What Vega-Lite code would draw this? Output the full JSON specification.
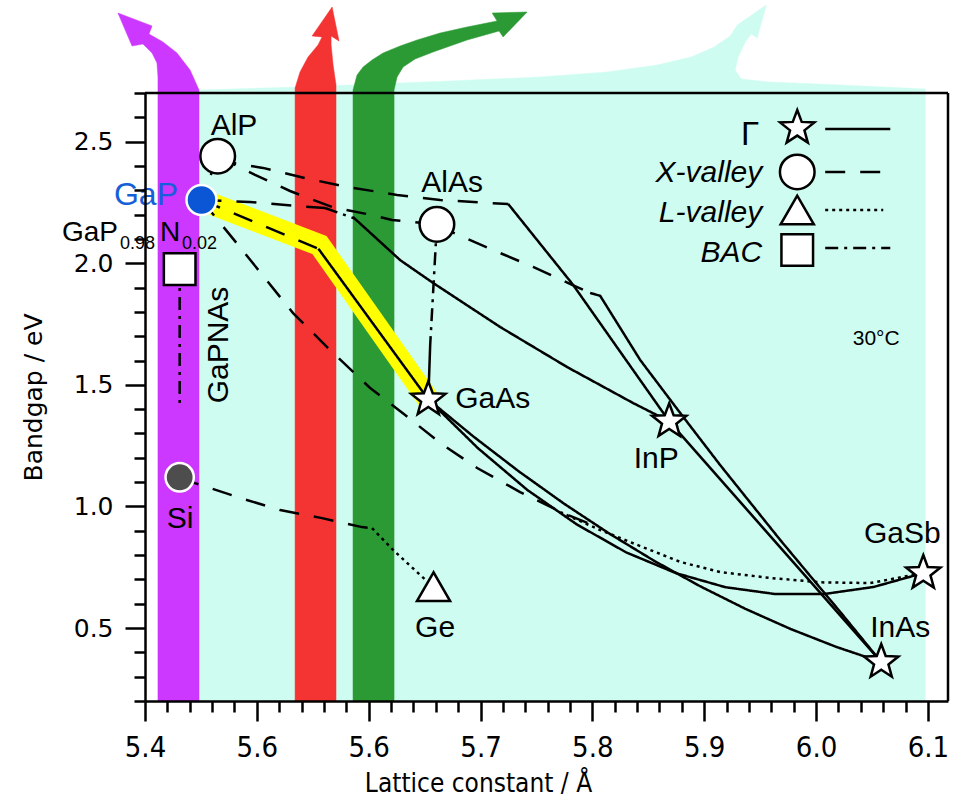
{
"$schema":"https://vega.github.io/schema/vega-lite/v6.json",
"width":803,"height":608,
"autosize":{"type":"none"},
"padding":{"left":145,"top":93,"right":7,"bottom":101},
"background":"white",
"config":{"view":{"stroke":null},"font":"Liberation Sans"},
"datasets":{
"shapes":[
{"p":"cyan","i":0,"x":5.4116,"y":0.2},{"p":"cyan","i":1,"x":5.4116,"y":2.7},{"p":"cyan","i":2,"x":5.4483,"y":2.7123},{"p":"cyan","i":3,"x":5.5386,"y":2.7247},{"p":"cyan","i":4,"x":5.6728,"y":2.7493},{"p":"cyan","i":5,"x":5.7533,"y":2.7658},{"p":"cyan","i":6,"x":5.8132,"y":2.7864},{"p":"cyan","i":7,"x":5.858,"y":2.8151},{"p":"cyan","i":8,"x":5.8884,"y":2.848},{"p":"cyan","i":9,"x":5.9089,"y":2.8891},{"p":"cyan","i":10,"x":5.9233,"y":2.9344},{"p":"cyan","i":11,"x":5.9296,"y":2.9796},{"p":"cyan","i":12,"x":5.9555,"y":3.0618},{"p":"cyan","i":13,"x":5.9474,"y":2.9262},{"p":"cyan","i":14,"x":5.942,"y":2.9426},{"p":"cyan","i":15,"x":5.9367,"y":2.9097},{"p":"cyan","i":16,"x":5.9304,"y":2.848},{"p":"cyan","i":17,"x":5.9277,"y":2.7946},{"p":"cyan","i":18,"x":5.933,"y":2.7576},{"p":"cyan","i":19,"x":5.9572,"y":2.7452},{"p":"cyan","i":20,"x":6.0225,"y":2.7329},{"p":"cyan","i":21,"x":6.0977,"y":2.7164},{"p":"cyan","i":22,"x":6.0977,"y":0.2},
{"p":"purple","i":0,"x":5.4116,"y":0.2},{"p":"purple","i":1,"x":5.4116,"y":2.7658},{"p":"purple","i":2,"x":5.4107,"y":2.8234},{"p":"purple","i":3,"x":5.4063,"y":2.8645},{"p":"purple","i":4,"x":5.3982,"y":2.9015},{"p":"purple","i":5,"x":5.3884,"y":2.8933},{"p":"purple","i":6,"x":5.3758,"y":3.0289},{"p":"purple","i":7,"x":5.4063,"y":2.9755},{"p":"purple","i":8,"x":5.4036,"y":2.9426},{"p":"purple","i":9,"x":5.4161,"y":2.9097},{"p":"purple","i":10,"x":5.4286,"y":2.8645},{"p":"purple","i":11,"x":5.4403,"y":2.7946},{"p":"purple","i":12,"x":5.4483,"y":2.7123},{"p":"purple","i":13,"x":5.4483,"y":0.2},
{"p":"red","i":0,"x":5.5342,"y":0.2},{"p":"red","i":1,"x":5.5342,"y":2.7206},{"p":"red","i":2,"x":5.5386,"y":2.7864},{"p":"red","i":3,"x":5.5458,"y":2.848},{"p":"red","i":4,"x":5.5547,"y":2.8974},{"p":"red","i":5,"x":5.5583,"y":2.9303},{"p":"red","i":6,"x":5.5494,"y":2.9344},{"p":"red","i":7,"x":5.5673,"y":3.0536},{"p":"red","i":8,"x":5.5735,"y":2.9138},{"p":"red","i":9,"x":5.5664,"y":2.9344},{"p":"red","i":10,"x":5.5664,"y":2.8974},{"p":"red","i":11,"x":5.5682,"y":2.8151},{"p":"red","i":12,"x":5.5708,"y":2.7329},{"p":"red","i":13,"x":5.5708,"y":0.2},
{"p":"green","i":0,"x":5.586,"y":0.2},{"p":"green","i":1,"x":5.586,"y":2.7123},{"p":"green","i":2,"x":5.5896,"y":2.774},{"p":"green","i":3,"x":5.595,"y":2.8069},{"p":"green","i":4,"x":5.603,"y":2.8357},{"p":"green","i":5,"x":5.6129,"y":2.8645},{"p":"green","i":6,"x":5.6281,"y":2.8933},{"p":"green","i":7,"x":5.6433,"y":2.9179},{"p":"green","i":8,"x":5.6639,"y":2.9467},{"p":"green","i":9,"x":5.688,"y":2.9714},{"p":"green","i":10,"x":5.7148,"y":2.9961},{"p":"green","i":11,"x":5.7104,"y":3.0289},{"p":"green","i":12,"x":5.7417,"y":3.0331},{"p":"green","i":13,"x":5.7202,"y":2.9303},{"p":"green","i":14,"x":5.7166,"y":2.9549},{"p":"green","i":15,"x":5.688,"y":2.9179},{"p":"green","i":16,"x":5.6576,"y":2.8686},{"p":"green","i":17,"x":5.6415,"y":2.8398},{"p":"green","i":18,"x":5.6308,"y":2.8069},{"p":"green","i":19,"x":5.6254,"y":2.7658},{"p":"green","i":20,"x":5.6227,"y":2.7123},{"p":"green","i":21,"x":5.6227,"y":0.2}
],
"lines":[
{"id":"hl","s":"hl","i":0,"x":5.4505,"y":2.26},{"id":"hl","s":"hl","i":1,"x":5.556,"y":2.075},{"id":"hl","s":"hl","i":2,"x":5.6533,"y":1.44},
{"id":"GaAsP_X","s":"dashed","i":0,"x":5.4505,"y":2.26},{"id":"GaAsP_X","s":"dashed","i":1,"x":5.555,"y":2.06},
{"id":"GaAsP_G","s":"solid","i":0,"x":5.555,"y":2.06},{"id":"GaAsP_G","s":"solid","i":1,"x":5.6533,"y":1.44},
{"id":"GaInP_X","s":"dashed","i":0,"x":5.4505,"y":2.26},{"id":"GaInP_X","s":"dashed","i":1,"x":5.4939,"y":2.252},{"id":"GaInP_X","s":"dashed","i":2,"x":5.536,"y":2.235},{"id":"GaInP_X","s":"dashed","i":3,"x":5.561,"y":2.227},
{"id":"GaInP_L","s":"dashdot","i":0,"x":5.561,"y":2.227},{"id":"GaInP_L","s":"dashdot","i":1,"x":5.587,"y":2.185},
{"id":"GaInP_G","s":"solid","i":0,"x":5.586,"y":2.19},{"id":"GaInP_G","s":"solid","i":1,"x":5.6281,"y":2.013},{"id":"GaInP_G","s":"solid","i":2,"x":5.6576,"y":1.919},{"id":"GaInP_G","s":"solid","i":3,"x":5.7175,"y":1.738},{"id":"GaInP_G","s":"solid","i":4,"x":5.7775,"y":1.573},{"id":"GaInP_G","s":"solid","i":5,"x":5.8365,"y":1.425},{"id":"GaInP_G","s":"solid","i":6,"x":5.8687,"y":1.35},
{"id":"AlInP_X","s":"dashed","i":0,"x":5.465,"y":2.44},{"id":"AlInP_X","s":"dashed","i":1,"x":5.4787,"y":2.412},{"id":"AlInP_X","s":"dashed","i":2,"x":5.5055,"y":2.392},{"id":"AlInP_X","s":"dashed","i":3,"x":5.5431,"y":2.35},{"id":"AlInP_X","s":"dashed","i":4,"x":5.5816,"y":2.313},{"id":"AlInP_X","s":"dashed","i":5,"x":5.6254,"y":2.281},{"id":"AlInP_X","s":"dashed","i":6,"x":5.6639,"y":2.26},{"id":"AlInP_X","s":"dashed","i":7,"x":5.7068,"y":2.248},{"id":"AlInP_X","s":"dashed","i":8,"x":5.7247,"y":2.244},
{"id":"AlInP_G","s":"solid","i":0,"x":5.7247,"y":2.244},{"id":"AlInP_G","s":"solid","i":1,"x":5.7828,"y":1.911},{"id":"AlInP_G","s":"solid","i":2,"x":5.8687,"y":1.35},
{"id":"AlAsP_X","s":"dashed","i":0,"x":5.465,"y":2.44},{"id":"AlAsP_X","s":"dashed","i":1,"x":5.4984,"y":2.363},{"id":"AlAsP_X","s":"dashed","i":2,"x":5.5297,"y":2.297},{"id":"AlAsP_X","s":"dashed","i":3,"x":5.5673,"y":2.231},{"id":"AlAsP_X","s":"dashed","i":4,"x":5.603,"y":2.198},{"id":"AlAsP_X","s":"dashed","i":5,"x":5.6209,"y":2.178},{"id":"AlAsP_X","s":"dashed","i":6,"x":5.661,"y":2.16},
{"id":"AlGaP_X","s":"dashed","i":0,"x":5.465,"y":2.44},{"id":"AlGaP_X","s":"dashed","i":1,"x":5.4505,"y":2.26},
{"id":"AlInAs_X","s":"dashed","i":0,"x":5.661,"y":2.16},{"id":"AlInAs_X","s":"dashed","i":1,"x":5.6746,"y":2.128},{"id":"AlInAs_X","s":"dashed","i":2,"x":5.7113,"y":2.054},{"id":"AlInAs_X","s":"dashed","i":3,"x":5.747,"y":1.985},{"id":"AlInAs_X","s":"dashed","i":4,"x":5.7819,"y":1.911},{"id":"AlInAs_X","s":"dashed","i":5,"x":5.798,"y":1.878},
{"id":"AlInAs_G","s":"solid","i":0,"x":5.798,"y":1.878},{"id":"AlInAs_G","s":"solid","i":1,"x":5.807,"y":1.866},{"id":"AlInAs_G","s":"solid","i":2,"x":5.8428,"y":1.602},{"id":"AlInAs_G","s":"solid","i":3,"x":5.8786,"y":1.384},{"id":"AlInAs_G","s":"solid","i":4,"x":5.9143,"y":1.17},{"id":"AlInAs_G","s":"solid","i":5,"x":5.968,"y":0.862},{"id":"AlInAs_G","s":"solid","i":6,"x":6.0217,"y":0.566},{"id":"AlInAs_G","s":"solid","i":7,"x":6.0583,"y":0.36},
{"id":"AlGaAs_B","s":"dashdot","i":0,"x":5.661,"y":2.16},{"id":"AlGaAs_B","s":"dashdot","i":1,"x":5.655,"y":1.664},
{"id":"AlGaAs_G","s":"solid","i":0,"x":5.655,"y":1.664},{"id":"AlGaAs_G","s":"solid","i":1,"x":5.6533,"y":1.44},
{"id":"InGaAs_G","s":"solid","i":0,"x":5.6533,"y":1.44},{"id":"InGaAs_G","s":"solid","i":1,"x":5.6938,"y":1.287},{"id":"InGaAs_G","s":"solid","i":2,"x":5.7343,"y":1.144},{"id":"InGaAs_G","s":"solid","i":3,"x":5.7748,"y":1.011},{"id":"InGaAs_G","s":"solid","i":4,"x":5.8153,"y":0.888},{"id":"InGaAs_G","s":"solid","i":5,"x":5.8558,"y":0.775},{"id":"InGaAs_G","s":"solid","i":6,"x":5.8963,"y":0.672},{"id":"InGaAs_G","s":"solid","i":7,"x":5.9368,"y":0.579},{"id":"InGaAs_G","s":"solid","i":8,"x":5.9773,"y":0.496},{"id":"InGaAs_G","s":"solid","i":9,"x":6.0178,"y":0.423},{"id":"InGaAs_G","s":"solid","i":10,"x":6.0583,"y":0.36},
{"id":"GaAsSb_G","s":"solid","i":0,"x":5.6533,"y":1.44},{"id":"GaAsSb_G","s":"solid","i":1,"x":5.6976,"y":1.24},{"id":"GaAsSb_G","s":"solid","i":2,"x":5.7418,"y":1.068},{"id":"GaAsSb_G","s":"solid","i":3,"x":5.7861,"y":0.926},{"id":"GaAsSb_G","s":"solid","i":4,"x":5.8303,"y":0.811},{"id":"GaAsSb_G","s":"solid","i":5,"x":5.8746,"y":0.726},{"id":"GaAsSb_G","s":"solid","i":6,"x":5.9189,"y":0.668},{"id":"GaAsSb_G","s":"solid","i":7,"x":5.9631,"y":0.64},{"id":"GaAsSb_G","s":"solid","i":8,"x":6.0074,"y":0.64},{"id":"GaAsSb_G","s":"solid","i":9,"x":6.0516,"y":0.669},{"id":"GaAsSb_G","s":"solid","i":10,"x":6.0959,"y":0.726},
{"id":"GaAsSb_L","s":"dotted","i":0,"x":5.7712,"y":0.977},{"id":"GaAsSb_L","s":"dotted","i":1,"x":5.807,"y":0.903},{"id":"GaAsSb_L","s":"dotted","i":2,"x":5.8428,"y":0.837},{"id":"GaAsSb_L","s":"dotted","i":3,"x":5.8786,"y":0.772},{"id":"GaAsSb_L","s":"dotted","i":4,"x":5.9143,"y":0.73},{"id":"GaAsSb_L","s":"dotted","i":5,"x":5.959,"y":0.706},{"id":"GaAsSb_L","s":"dotted","i":6,"x":6.0038,"y":0.688},{"id":"GaAsSb_L","s":"dotted","i":7,"x":6.0485,"y":0.685},{"id":"GaAsSb_L","s":"dotted","i":8,"x":6.0959,"y":0.726},
{"id":"InAsP_G","s":"solid","i":0,"x":5.8687,"y":1.35},{"id":"InAsP_G","s":"solid","i":1,"x":6.0583,"y":0.36},
{"id":"GaP_dn","s":"dashed","i":0,"x":5.4505,"y":2.26},{"id":"GaP_dn","s":"dashed","i":1,"x":5.4877,"y":2.05},{"id":"GaP_dn","s":"dashed","i":2,"x":5.5324,"y":1.795},{"id":"GaP_dn","s":"dashed","i":3,"x":5.5655,"y":1.643},{"id":"GaP_dn","s":"dashed","i":4,"x":5.6013,"y":1.487},{"id":"GaP_dn","s":"dashed","i":5,"x":5.6326,"y":1.376},{"id":"GaP_dn","s":"dashed","i":6,"x":5.6639,"y":1.261},{"id":"GaP_dn","s":"dashed","i":7,"x":5.697,"y":1.158},{"id":"GaP_dn","s":"dashed","i":8,"x":5.7354,"y":1.059},{"id":"GaP_dn","s":"dashed","i":9,"x":5.7739,"y":0.973},{"id":"GaP_dn","s":"dashed","i":10,"x":5.807,"y":0.911},
{"id":"SiGe_X","s":"dashed","i":0,"x":5.431,"y":1.12},{"id":"SiGe_X","s":"dashed","i":1,"x":5.4447,"y":1.096},{"id":"SiGe_X","s":"dashed","i":2,"x":5.485,"y":1.035},{"id":"SiGe_X","s":"dashed","i":3,"x":5.5208,"y":0.985},{"id":"SiGe_X","s":"dashed","i":4,"x":5.5583,"y":0.952},{"id":"SiGe_X","s":"dashed","i":5,"x":5.5941,"y":0.915},{"id":"SiGe_X","s":"dashed","i":6,"x":5.603,"y":0.911},
{"id":"SiGe_L","s":"dotted","i":0,"x":5.603,"y":0.911},{"id":"SiGe_L","s":"dotted","i":1,"x":5.6218,"y":0.821},{"id":"SiGe_L","s":"dotted","i":2,"x":5.6504,"y":0.7},{"id":"SiGe_L","s":"dotted","i":3,"x":5.658,"y":0.67},
{"id":"GaPN","s":"dashdot","i":0,"x":5.431,"y":1.976},{"id":"GaPN","s":"dashdot","i":1,"x":5.431,"y":1.42},
{"id":"leg1","s":"solid","i":0,"x":6.0082,"y":2.552},{"id":"leg1","s":"solid","i":1,"x":6.0664,"y":2.552},
{"id":"leg2","s":"dashed","i":0,"x":6.0082,"y":2.3752},{"id":"leg2","s":"dashed","i":1,"x":6.0664,"y":2.3752},
{"id":"leg3","s":"dotted","i":0,"x":6.0082,"y":2.2189},{"id":"leg3","s":"dotted","i":1,"x":6.0601,"y":2.2189},
{"id":"leg4","s":"dashdot","i":0,"x":6.0082,"y":2.0627},{"id":"leg4","s":"dashdot","i":1,"x":6.0664,"y":2.0627},
{"id":"frame","s":"solid","i":0,"x":5.4,"y":2.7},{"id":"frame","s":"solid","i":1,"x":6.118,"y":2.7},{"id":"frame","s":"solid","i":2,"x":6.118,"y":0.2}
],
"points":[
{"n":"AlP","k":"X","leg":0,"x":5.465,"y":2.44},
{"n":"AlAs","k":"X","leg":0,"x":5.661,"y":2.16},
{"n":"GaP","k":"GaP","leg":0,"x":5.4505,"y":2.26},
{"n":"Si","k":"Si","leg":0,"x":5.431,"y":1.12},
{"n":"Ge","k":"L","leg":0,"x":5.658,"y":0.67},
{"n":"GaPN","k":"BAC","leg":0,"x":5.431,"y":1.976},
{"n":"GaAs","k":"G","leg":0,"x":5.6533,"y":1.44},
{"n":"InP","k":"G","leg":0,"x":5.8687,"y":1.35},
{"n":"InAs","k":"G","leg":0,"x":6.0583,"y":0.36},
{"n":"GaSb","k":"G","leg":0,"x":6.0959,"y":0.726},
{"n":"lg","k":"G","leg":1,"x":5.9832,"y":2.556},
{"n":"lx","k":"X","leg":1,"x":5.9832,"y":2.3752},
{"n":"ll","k":"L","leg":1,"x":5.9832,"y":2.2189},
{"n":"lb","k":"BAC","leg":1,"x":5.9832,"y":2.0544}
],
"labels":[
{"t":"AlP","g":"c","x":5.4796,"y":2.5273},
{"t":"AlAs","g":"c","x":5.6746,"y":2.2929},
{"t":"InP","g":"c","x":5.8571,"y":1.1581},
{"t":"InAs","g":"c","x":6.0753,"y":0.4632},
{"t":"GaSb","g":"c","x":6.0771,"y":0.8497},
{"t":"Si","g":"c","x":5.4313,"y":0.9114},
{"t":"Ge","g":"c","x":5.6594,"y":0.4632},
{"t":"GaAs","g":"l","x":5.6773,"y":1.4048},
{"t":"GaP","g":"blue","x":5.4295,"y":2.2395},
{"t":"GaP","g":"r28","x":5.3758,"y":2.0914},
{"t":"N","g":"l28","x":5.4134,"y":2.0914},
{"t":"0.98","g":"sub","x":5.3776,"y":2.0586},
{"t":"0.02","g":"sub","x":5.4331,"y":2.0586},
{"t":"GaPNAs","g":"rot","x":5.4742,"y":1.6638},
{"t":"Γ","g":"legG","x":5.9492,"y":2.4862},
{"t":"X-valley","g":"legI","x":5.9519,"y":2.334},
{"t":"L-valley","g":"legI","x":5.9519,"y":2.1696},
{"t":"BAC","g":"legI","x":5.9519,"y":2.0051},
{"t":"30°C","g":"small","x":6.0538,"y":1.6638}
]
},
"encoding":{
"x":{"field":"x","type":"quantitative","scale":{"domain":[5.4,6.118],"nice":false,"zero":false},
 "axis":{"orient":"bottom","values":[5.4,5.42,5.44,5.46,5.48,5.5,5.52,5.54,5.56,5.58,5.6,5.62,5.64,5.66,5.68,5.7,5.72,5.74,5.76,5.78,5.8,5.82,5.84,5.86,5.88,5.9,5.92,5.94,5.96,5.98,6.0,6.02,6.04,6.06,6.08,6.1],
 "labelExpr":"abs(datum.value*10-round(datum.value*10))<0.001 ? (abs(datum.value-5.5)<0.001 ? '5.6' : format(datum.value,'.1f')) : ''",
 "labelFont":"'DejaVu Sans Condensed', 'Liberation Sans', sans-serif","labelFontSize":29,"labelColor":"black","labelPadding":12,"labelFlush":false,"labelOverlap":false,"labelBound":false,
 "tickSize":{"condition":{"test":"abs(datum.value*10-round(datum.value*10))<0.001","value":20},"value":11},
 "tickColor":"black","tickWidth":2.5,"domainColor":"black","domainWidth":2.5,"grid":false,"zindex":1,
 "title":"Lattice constant / Å","titleFont":"'DejaVu Sans Condensed', 'Liberation Sans', sans-serif","titleFontSize":26,"titleFontWeight":"normal","titleColor":"black","titleX":333,"titleY":90,"titleBaseline":"alphabetic","titleAlign":"center"}},
"y":{"field":"y","type":"quantitative","scale":{"domain":[0.2,2.7],"nice":false,"zero":false},
 "axis":{"orient":"left","values":[0.2,0.3,0.4,0.5,0.6,0.7,0.8,0.9,1.0,1.1,1.2,1.3,1.4,1.5,1.6,1.7,1.8,1.9,2.0,2.1,2.2,2.3,2.4,2.5,2.6,2.7],
 "labelExpr":"abs(datum.value*2-round(datum.value*2))<0.001 ? format(datum.value,'.1f') : ''",
 "labelFont":"DejaVu Sans","labelFontSize":25,"labelColor":"black","labelPadding":12,"labelFlush":false,"labelOverlap":false,"labelBound":false,
 "tickSize":{"condition":{"test":"abs(datum.value*2-round(datum.value*2))<0.001","value":20},"value":11},
 "tickColor":"black","tickWidth":2.5,"domainColor":"black","domainWidth":2.5,"grid":false,"zindex":1,
 "title":"Bandgap / eV","titleFont":"DejaVu Sans","titleFontSize":25,"titleFontWeight":"normal","titleColor":"black","titleX":-104,"titleY":304,"titleAngle":270,"titleBaseline":"alphabetic","titleAlign":"center"}}
},
"layer":[
{"data":{"name":"shapes"},"transform":[{"filter":"datum.p=='cyan'"}],"mark":{"type":"line","fill":"#cffcf0","stroke":"#cffcf0","strokeWidth":0.5,"interpolate":"linear"},"encoding":{"order":{"field":"i","type":"quantitative"}}},
{"data":{"name":"shapes"},"transform":[{"filter":"datum.p=='purple'"}],"mark":{"type":"line","fill":"#cc38ff","stroke":"#cc38ff","strokeWidth":0.5,"interpolate":"linear"},"encoding":{"order":{"field":"i","type":"quantitative"}}},
{"data":{"name":"shapes"},"transform":[{"filter":"datum.p=='red'"}],"mark":{"type":"line","fill":"#f43333","stroke":"#f43333","strokeWidth":0.5,"interpolate":"linear"},"encoding":{"order":{"field":"i","type":"quantitative"}}},
{"data":{"name":"shapes"},"transform":[{"filter":"datum.p=='green'"}],"mark":{"type":"line","fill":"#2b9a35","stroke":"#2b9a35","strokeWidth":0.5,"interpolate":"linear"},"encoding":{"order":{"field":"i","type":"quantitative"}}},
{"data":{"name":"lines"},"transform":[{"filter":"datum.s=='hl'"}],"mark":{"type":"line","color":"#ffff00","strokeWidth":22,"strokeCap":"butt","strokeJoin":"miter"},"encoding":{"order":{"field":"i","type":"quantitative"}}},
{"data":{"name":"lines"},"transform":[{"filter":"datum.s!='hl'"}],"mark":{"type":"line","color":"black","strokeWidth":2.5,"strokeCap":"butt"},
 "encoding":{"detail":{"field":"id","type":"nominal"},"order":{"field":"i","type":"quantitative"},
 "strokeDash":{"field":"s","type":"nominal","scale":{"domain":["solid","dashed","dotted","dashdot"],"range":[[1,0],[20,15],[3,4],[13,6,3,6]]},"legend":null}}},
{"data":{"name":"points"},"transform":[{"filter":"datum.leg==0"}],"mark":{"type":"point","opacity":1,"strokeWidth":2.5},
 "encoding":{
 "shape":{"field":"k","type":"nominal","scale":{"domain":["G","X","L","BAC","GaP","Si"],"range":["M0,-1L0.2469,-0.3398L0.9511,-0.309L0.3995,0.1298L0.5878,0.809L0,0.42L-0.5878,0.809L-0.3995,0.1298L-0.9511,-0.309L-0.2469,-0.3398Z","circle","triangle-up","square","circle","circle"]},"legend":null},
 "fill":{"field":"k","type":"nominal","scale":{"domain":["G","X","L","BAC","GaP","Si"],"range":["white","white","white","white","#0b56d4","#4d4d4d"]},"legend":null},
 "stroke":{"field":"k","type":"nominal","scale":{"domain":["G","X","L","BAC","GaP","Si"],"range":["black","black","black","black","white","white"]},"legend":null},
 "size":{"field":"k","type":"ordinal","scale":{"domain":["G","X","L","BAC","GaP","Si"],"range":[1300,800,880,600,780,780]},"legend":null}}},
{"data":{"name":"points"},"transform":[{"filter":"datum.leg==1"}],"mark":{"type":"point","opacity":1,"strokeWidth":2.5,"fill":"white","stroke":"black"},
 "encoding":{
 "shape":{"field":"k","type":"nominal","scale":{"domain":["G","X","L","BAC","GaP","Si"],"range":["M0,-1L0.2469,-0.3398L0.9511,-0.309L0.3995,0.1298L0.5878,0.809L0,0.42L-0.5878,0.809L-0.3995,0.1298L-0.9511,-0.309L-0.2469,-0.3398Z","circle","triangle-up","square","circle","circle"]},"legend":null},
 "size":{"field":"k","type":"ordinal","scale":{"domain":["G","X","L","BAC","GaP","Si"],"range":[1500,520,880,430,780,780]},"legend":null}}},
{"data":{"name":"labels"},"transform":[{"filter":"datum.g=='c'"}],"mark":{"type":"text","font":"Liberation Sans","fontSize":30,"align":"center","baseline":"alphabetic","color":"black"},"encoding":{"text":{"field":"t"}}},
{"data":{"name":"labels"},"transform":[{"filter":"datum.g=='l'"}],"mark":{"type":"text","font":"Liberation Sans","fontSize":30,"align":"left","baseline":"alphabetic","color":"black"},"encoding":{"text":{"field":"t"}}},
{"data":{"name":"labels"},"transform":[{"filter":"datum.g=='blue'"}],"mark":{"type":"text","font":"Liberation Sans","fontSize":32,"align":"right","baseline":"alphabetic","color":"#1560d8"},"encoding":{"text":{"field":"t"}}},
{"data":{"name":"labels"},"transform":[{"filter":"datum.g=='r28'"}],"mark":{"type":"text","font":"Liberation Sans","fontSize":28,"align":"right","baseline":"alphabetic","color":"black"},"encoding":{"text":{"field":"t"}}},
{"data":{"name":"labels"},"transform":[{"filter":"datum.g=='l28'"}],"mark":{"type":"text","font":"Liberation Sans","fontSize":28,"align":"left","baseline":"alphabetic","color":"black"},"encoding":{"text":{"field":"t"}}},
{"data":{"name":"labels"},"transform":[{"filter":"datum.g=='sub'"}],"mark":{"type":"text","font":"Liberation Sans","fontSize":18,"align":"left","baseline":"alphabetic","color":"black"},"encoding":{"text":{"field":"t"}}},
{"data":{"name":"labels"},"transform":[{"filter":"datum.g=='rot'"}],"mark":{"type":"text","font":"Liberation Sans","fontSize":30,"align":"center","baseline":"alphabetic","angle":270,"color":"black"},"encoding":{"text":{"field":"t"}}},
{"data":{"name":"labels"},"transform":[{"filter":"datum.g=='legG'"}],"mark":{"type":"text","font":"Liberation Sans","fontSize":33,"align":"right","baseline":"alphabetic","color":"black"},"encoding":{"text":{"field":"t"}}},
{"data":{"name":"labels"},"transform":[{"filter":"datum.g=='legI'"}],"mark":{"type":"text","font":"Liberation Sans","fontSize":30,"fontStyle":"italic","align":"right","baseline":"alphabetic","color":"black"},"encoding":{"text":{"field":"t"}}},
{"data":{"name":"labels"},"transform":[{"filter":"datum.g=='small'"}],"mark":{"type":"text","font":"Liberation Sans","fontSize":21,"align":"center","baseline":"alphabetic","color":"black"},"encoding":{"text":{"field":"t"}}}
]
}
